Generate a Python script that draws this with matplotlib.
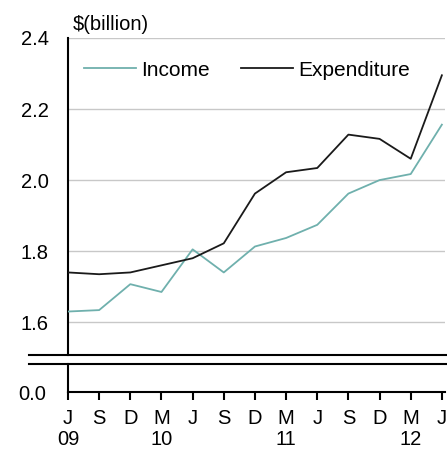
#quarterly income vs expenditure chart with a broken y axis

import matplotlib
import matplotlib.pyplot as plt
from matplotlib.lines import Line2D

matplotlib.use('Agg') #no display

plt.rcParams['font.family'] = ['Liberation Sans', 'DejaVu Sans']

#data, quarterly from June 2009 to June 2012
quarters = ['J\n09', 'S', 'D', 'M\n10', 'J', 'S', 'D', 'M\n11', 'J', 'S', 'D', 'M\n12', 'J']
income = [1.630, 1.634, 1.707, 1.685, 1.805, 1.740, 1.813, 1.837, 1.874, 1.962, 2.000, 2.017, 2.156]
expenditure = [1.740, 1.735, 1.740, 1.760, 1.780, 1.822, 1.962, 2.022, 2.034, 2.128, 2.116, 2.060, 2.295]
y_ticks = [1.6, 1.8, 2.0, 2.2, 2.4]

teal = '#6fb0ad'
grey = '#c8c8c8'
fs = 14.5

fig = plt.figure(figsize=(4.47, 4.5), dpi=100)
ax = fig.add_axes([0.1521, 0.2122, 0.8434, 0.7034])
ax_low = fig.add_axes([0.1521, 0.1282, 0.8434, 0.0622])

x = list(range(len(quarters)))

#upper panel
for t in y_ticks:
    ax.axhline(t, color=grey, lw=1, zorder=1)
ax.plot(x, income, color=teal, lw=1.3, label='Income', zorder=3)
ax.plot(x, expenditure, color='#1a1a1a', lw=1.3, label='Expenditure', zorder=3)
ax.set_xlim(0, 12.1)
ax.set_ylim(1.509, 2.4)
ax.set_yticks(y_ticks)
ax.set_yticklabels(['%.1f' % t for t in y_ticks], fontsize=fs)
ax.tick_params(axis='y', length=0, pad=14)
ax.set_xticks([])
for s in ['top', 'right', 'bottom']:
    ax.spines[s].set_visible(False)
ax.spines['left'].set_linewidth(1.5)
ax.add_line(Line2D([-0.103, 1.01], [0, 0], transform=ax.transAxes, color='black',
                   lw=1.5, clip_on=False))
ax.text(0.013, 1.014, '$(billion)', transform=ax.transAxes, fontsize=fs,
        va='bottom', ha='left')
ax.legend(loc='upper left', bbox_to_anchor=(0.02, 0.955), ncol=2, frameon=False,
          fontsize=fs + 0.5, handlelength=2.5, handletextpad=0.25, columnspacing=1.5,
          borderaxespad=0.0)

#lower panel, only zero shown
ax_low.set_xlim(0, 12.1)
ax_low.set_ylim(0, 0.1)
ax_low.set_yticks([0])
ax_low.set_yticklabels(['0.0'], fontsize=fs)
ax_low.tick_params(axis='y', length=0, pad=16)
ax_low.set_xticks(x)
ax_low.set_xticklabels(quarters, fontsize=fs, linespacing=1.15)
ax_low.tick_params(axis='x', length=6, width=1.5, pad=6)
for s in ['top', 'right']:
    ax_low.spines[s].set_visible(False)
ax_low.spines['left'].set_linewidth(1.5)
ax_low.spines['bottom'].set_linewidth(1.5)
ax_low.add_line(Line2D([-0.103, 1.01], [1, 1], transform=ax_low.transAxes, color='black',
                       lw=1.5, clip_on=False))

fig.savefig('out.png', dpi=100)
